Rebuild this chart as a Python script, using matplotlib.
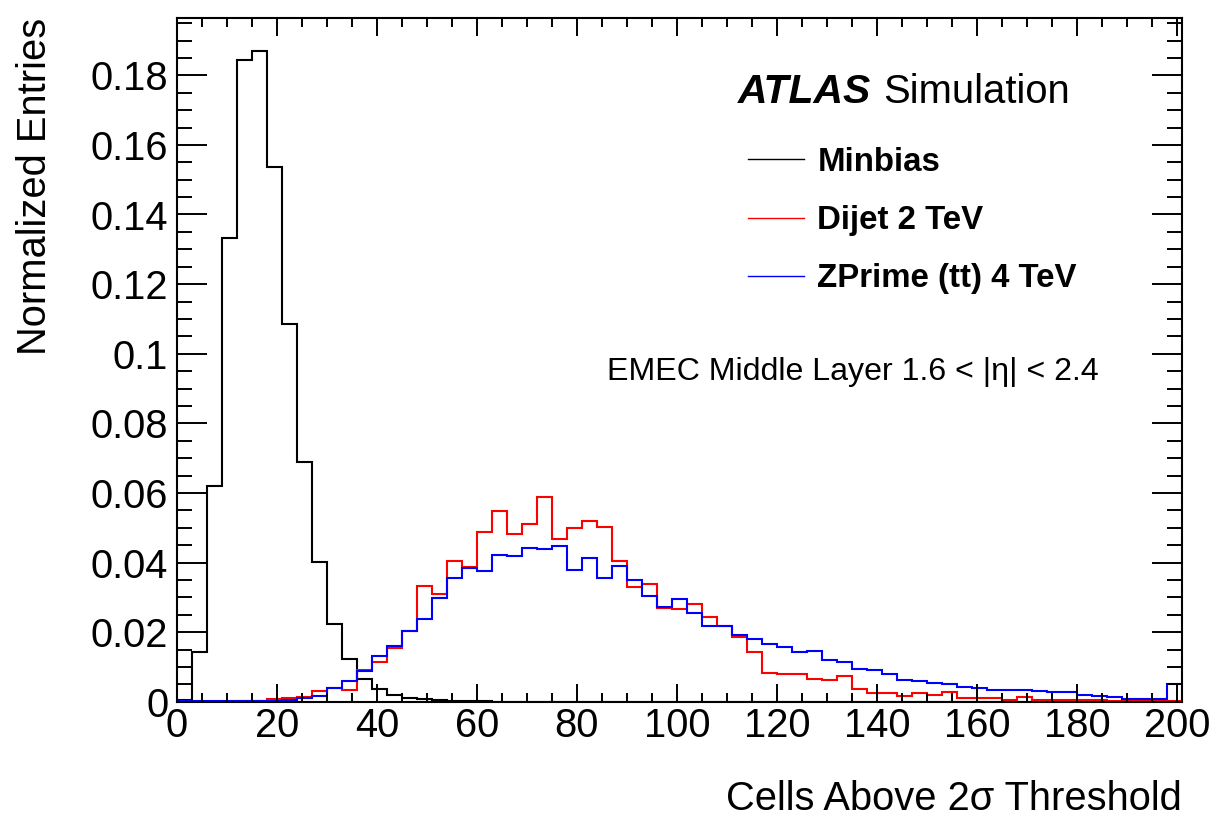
import numpy as np
import matplotlib
matplotlib.use("Agg")
import matplotlib.pyplot as plt
from matplotlib.ticker import MultipleLocator, FuncFormatter
from matplotlib.lines import Line2D

plt.rcParams['font.family'] = ['Liberation Sans', 'DejaVu Sans']

# bin edges: 67 bins of width 3 from 0 to 201
bin_edges = np.arange(0, 202, 3)

minbias = [0.0005, 0.0144, 0.0621, 0.1332, 0.1844, 0.1870, 0.1537, 0.1084, 0.0690, 0.0401,
           0.0222, 0.0122, 0.0064, 0.0037, 0.0019, 0.0010, 0.0007, 0.0004, 0.0002, 0.0001,
           0.0001] + [0.0] * 46

dijet = [0.0, 0.0, 0.0, 0.0, 0.0001, 0.0001, 0.0007, 0.0011, 0.0014, 0.0032,
         0.0040, 0.0034, 0.0090, 0.0115, 0.0153, 0.0204, 0.0332, 0.0309, 0.0404, 0.0386,
         0.0489, 0.0549, 0.0481, 0.0511, 0.0587, 0.0467, 0.0500, 0.0518, 0.0501, 0.0403,
         0.0330, 0.0339, 0.0270, 0.0266, 0.0280, 0.0244, 0.0218, 0.0187, 0.0144, 0.0082,
         0.0079, 0.0079, 0.0065, 0.0062, 0.0074, 0.0036, 0.0024, 0.0024, 0.0015, 0.0024,
         0.0019, 0.0029, 0.0012, 0.0010, 0.0010, 0.0005, 0.0014, 0.0005, 0.0004, 0.0006,
         0.0004, 0.0006, 0.0003, 0.0003, 0.0003, 0.0004, 0.0003]

zprime = [0.0001, 0.0001, 0.0001, 0.0001, 0.0001, 0.0001, 0.0003, 0.0005, 0.0010, 0.0017,
          0.0038, 0.0060, 0.0087, 0.0132, 0.0161, 0.0204, 0.0237, 0.0299, 0.0356, 0.0383,
          0.0376, 0.0422, 0.0419, 0.0441, 0.0438, 0.0448, 0.0378, 0.0412, 0.0356, 0.0391,
          0.0350, 0.0304, 0.0272, 0.0295, 0.0256, 0.0218, 0.0218, 0.0192, 0.0180, 0.0166,
          0.0156, 0.0142, 0.0146, 0.0120, 0.0113, 0.0093, 0.0091, 0.0081, 0.0063, 0.0059,
          0.0055, 0.0051, 0.0041, 0.0039, 0.0034, 0.0034, 0.0034, 0.0030, 0.0028, 0.0028,
          0.0019, 0.0016, 0.0013, 0.0009, 0.0009, 0.0009, 0.0051]

series_labels = ["Minbias", "Dijet 2 TeV", "ZPrime (tt) 4 TeV"]
series_colors = ["black", "#ff0000", "#0000ff"]

W, H = 1214, 816
FS = 28.7
fig = plt.figure(figsize=(W / 100, H / 100), dpi=100)
x0, x1, ytop, ybot = 176.7, 1182.0, 18.0, 701.7
ax = fig.add_axes([x0 / W, 1 - ybot / H, (x1 - x0) / W, (ybot - ytop) / H])

for vals, col, lab in zip([minbias, dijet, zprime], series_colors, series_labels):
    ax.stairs(vals, bin_edges, color=col, linewidth=1.5, baseline=None, label=lab)

ax.set_xlim(0, 201)
ax.set_ylim(0, (ybot - ytop) / 3480.0)

ax.xaxis.set_major_locator(MultipleLocator(20))
ax.xaxis.set_minor_locator(MultipleLocator(5))
ax.yaxis.set_major_locator(MultipleLocator(0.02))
ax.yaxis.set_minor_locator(MultipleLocator(0.005))
ax.yaxis.set_major_formatter(FuncFormatter(lambda v, p: "%g" % round(v, 4)))
ax.xaxis.set_major_formatter(FuncFormatter(lambda v, p: "%g" % round(v, 4)))

ax.tick_params(which='both', direction='in', top=True, right=True, width=1.4,
               labelsize=FS, colors='black')
ax.tick_params(axis='x', which='major', length=13, pad=3.5)
ax.tick_params(axis='x', which='minor', length=6.5)
ax.tick_params(axis='y', which='major', length=21.6, pad=6)
ax.tick_params(axis='y', which='minor', length=10.8)
for s in ax.spines.values():
    s.set_linewidth(1.5)

fig.text(35 / W, 1 - 18 / H, "Normalized Entries", rotation=90, ha='center', va='top', fontsize=FS)
fig.text(x1 / W, 1 - 810 / H, "Cells Above 2\u03c3 Threshold", ha='right', va='baseline', fontsize=FS)

fig.text(738 / W, 1 - 103 / H, "ATLAS", fontsize=29.4, fontweight='bold', fontstyle='italic',
         ha='left', va='baseline')
fig.text(883 / W, 1 - 103 / H, "Simulation", fontsize=28.8, ha='left', va='baseline')

fig.text(1099 / W, 1 - 380 / H, "EMEC Middle Layer 1.6 < |\u03b7| < 2.4", fontsize=23.1,
         ha='right', va='baseline')

leg_handles = [Line2D([], [], color=c, linewidth=1.0) for c in series_colors]
leg = ax.legend(leg_handles, series_labels, loc='upper left',
                bbox_to_anchor=(748 / W, 1 - 147 / H), bbox_transform=fig.transFigure,
                frameon=False, borderpad=0, borderaxespad=0, handlelength=1.7,
                handletextpad=0.4, labelspacing=0.82,
                prop={'size': 23.8, 'weight': 'bold'})

fig.savefig("out.png", dpi=100)
